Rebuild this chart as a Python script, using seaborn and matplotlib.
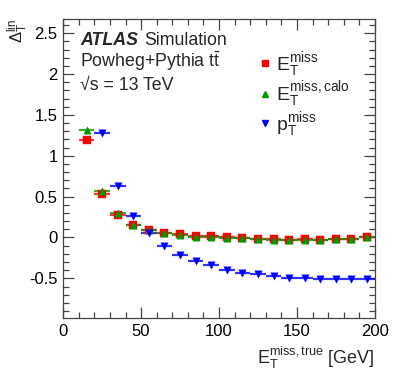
import numpy as np
import pandas as pd
import seaborn as sns
import matplotlib.pyplot as plt
from matplotlib.ticker import MultipleLocator, FormatStrFormatter
from matplotlib.lines import Line2D

# bin centres (GeV), bins 10 GeV wide
x_et = [15, 25, 35, 45, 55, 65, 75, 85, 95, 105, 115, 125, 135, 145, 155, 165, 175, 185, 195]
y_et = [1.19, 0.53, 0.27, 0.155, 0.094, 0.057, 0.037, 0.016, 0.016, 0.0, -0.01, -0.015,
        -0.02, -0.03, -0.02, -0.03, -0.015, -0.015, 0.01]
y_calo = [1.32, 0.575, 0.30, 0.155, 0.086, 0.053, 0.03, 0.012, 0.005, -0.005, -0.012, -0.02,
          -0.025, -0.03, -0.025, -0.035, -0.02, -0.018, 0.005]
x_pt = [25, 35, 45, 55, 65, 75, 85, 95, 105, 115, 125, 135, 145, 155, 165, 175, 185, 195]
y_pt = [1.28, 0.625, 0.26, 0.05, -0.11, -0.21, -0.29, -0.34, -0.40, -0.43, -0.45, -0.47,
        -0.49, -0.49, -0.51, -0.51, -0.51, -0.51]
bin_half = 5

labels = [r"$\mathrm{E}_{\mathrm{T}}^{\mathrm{miss}}$",
          r"$\mathrm{E}_{\mathrm{T}}^{\mathrm{miss,calo}}$",
          r"$\mathrm{p}_{\mathrm{T}}^{\mathrm{miss}}$"]
colors = ["#ff0000", "#009900", "#0000ff"]
markers = ["s", "^", "v"]

sns.set_theme(style="ticks")
plt.rcParams['font.family'] = ['Liberation Sans', 'DejaVu Sans']
plt.rcParams['mathtext.fontset'] = 'custom'
plt.rcParams['mathtext.rm'] = 'Liberation Sans'
plt.rcParams['mathtext.it'] = 'Liberation Sans:italic'
plt.rcParams['mathtext.bf'] = 'Liberation Sans:bold'

fig = plt.figure(figsize=(3.95, 3.79), dpi=100)
ax = fig.add_axes([0.16, 0.161, 0.789, 0.788])

series = [(x_et, y_et), (x_et, y_calo), (x_pt, y_pt)]
for (xs, ys), c, m, lab in zip(series, colors, markers, labels):
    ax.errorbar(xs, ys, xerr=bin_half, fmt='none', ecolor=c, elinewidth=1.6, alpha=0.8, zorder=2)
    df = pd.DataFrame({"x": xs, "y": ys})
    sns.scatterplot(data=df, x="x", y="y", marker=m, color=c, s=28, edgecolor=c,
                    linewidth=0.3, ax=ax, zorder=3, legend=False)

ax.set_xlim(0, 200)
ax.set_ylim(-0.985, 2.67)
ax.xaxis.set_major_locator(MultipleLocator(50))
ax.xaxis.set_minor_locator(MultipleLocator(10))
ax.yaxis.set_major_locator(MultipleLocator(0.5))
ax.yaxis.set_minor_locator(MultipleLocator(0.1))
ax.yaxis.set_major_formatter(FormatStrFormatter('%g'))
ax.tick_params(which='both', direction='in', top=True, right=True, labelsize=12, pad=4,
               color='#444444', labelcolor='black')
ax.tick_params(which='major', length=8, width=0.9)
ax.tick_params(which='minor', length=4, width=0.9)
for sp in ax.spines.values():
    sp.set_color('#444444')
    sp.set_linewidth(0.9)

ax.set_xlabel(r"$\mathrm{E}_{\mathrm{T}}^{\mathrm{miss,true}}$ [GeV]", fontsize=13, loc='right', labelpad=4)
ax.set_ylabel(r"$\Delta_{\mathrm{T}}^{\mathrm{lin}}$", fontsize=12, loc='top')
ax.yaxis.set_label_coords(-0.105, 1.0)

ax.text(0.055, 0.915, "ATLAS", transform=ax.transAxes, fontsize=12.8, fontweight='bold',
        fontstyle='italic', va='baseline')
ax.text(0.26, 0.915, "Simulation", transform=ax.transAxes, fontsize=12.8, va='baseline')
ax.text(0.055, 0.841, r"Powheg+Pythia t$\bar{\mathrm{t}}$", transform=ax.transAxes, fontsize=12.8, va='baseline')
ax.text(0.055, 0.764, "\u221as = 13 TeV", transform=ax.transAxes, fontsize=12.8, va='baseline')

handles = [Line2D([], [], ls='none', marker=m, color=c, markersize=4.5) for m, c in zip(markers, colors)]
ax.legend(handles, labels, loc='upper left', bbox_to_anchor=(0.6, 0.93), frameon=False,
          fontsize=14, handlelength=0.5, handletextpad=0.35, labelspacing=0.02, borderpad=0)

fig.savefig("out.png", dpi=100)
